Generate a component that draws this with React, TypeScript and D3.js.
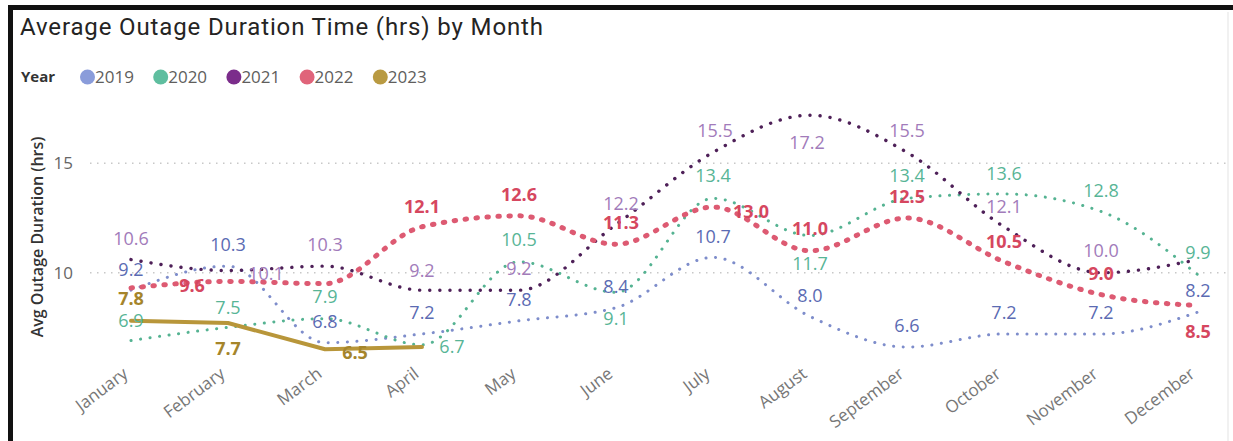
import React from "react";
import * as d3 from "d3";

const months = [
  "January", "February", "March", "April", "May", "June",
  "July", "August", "September", "October", "November", "December",
];
const years = ["2019", "2020", "2021", "2022", "2023"];
const values2019 = [9.2, 10.3, 6.8, 7.2, 7.8, 8.4, 10.7, 8.0, 6.6, 7.2, 7.2, 8.2];
const values2020 = [6.9, 7.5, 7.9, 6.7, 10.5, 9.1, 13.4, 11.7, 13.4, 13.6, 12.8, 9.9];
const values2021 = [10.6, 10.1, 10.3, 9.2, 9.2, 12.2, 15.5, 17.2, 15.5, 12.1, 10.0, 10.6];
const values2022 = [9.3, 9.6, 9.5, 12.1, 12.6, 11.3, 13.0, 11.0, 12.5, 10.5, 9.0, 8.5];
const values2023 = [7.8, 7.7, 6.5, 6.6];
const yTicks = [10, 15];

const titleText = "Average Outage Duration Time (hrs) by Month";
const legendTitle = "Year";
const yAxisTitle = "Avg Outage Duration (hrs)";

// label placement relative to the point [dx, dy]; null = label hidden
type P = [number, number] | null;
const A: P = [0, -21];
const labels2019: P[] = [A, A, A, A, A, A, A, A, A, A, A, A];
const labels2020: P[] = [[0, -20], [0, -20], [0, -22], [30, 2], [0, -22], [0, 26], [0, -23], [0, 28], [0, -23], [0, -20], [0, -21], [0, -22]];
const labels2021: P[] = [A, [38, 3], A, [0, -20], [0, -22], [5, -21], [2, -22], [-3, 27], [0, -22], [0, -20], [0, -22], null];
const labels2022: P[] = [null, [-36, 4], null, [0, -20], A, [5, -22], [38, 5], [0, -22], A, [0, -20], A, [0, 26]];
const labels2023: P[] = [[0, -22], [0, 26], [30, 3], null];

const W = 1233;
const H = 441;

const series = [
  { year: years[0], values: values2019, labels: labels2019, legend: "#8A9CDA", line: "#7E8DCB", label: "#5B6BB3", width: 3, dash: "0.1 9.5", bold: false, solid: false },
  { year: years[1], values: values2020, labels: labels2020, legend: "#5FBE9F", line: "#55B392", label: "#58B596", width: 3, dash: "0.1 9.5", bold: false, solid: false },
  { year: years[2], values: values2021, labels: labels2021, legend: "#7B2D8B", line: "#4E2058", label: "#A27BBA", width: 3.4, dash: "0.1 10", bold: false, solid: false },
  { year: years[3], values: values2022, labels: labels2022, legend: "#E0647A", line: "#DD5A72", label: "#D6475F", width: 5, dash: "1.5 9.5", bold: true, solid: false },
  { year: years[4], values: values2023, labels: labels2023, legend: "#B99A42", line: "#B8963A", label: "#A5852B", width: 4, dash: "", bold: true, solid: true },
];

export default function App() {
  const x = d3.scalePoint<string>().domain(months).range([131, 1198]);
  const y = d3.scaleLinear().domain([6, 18]).range([360.2, 97.7]);

  const smooth = d3
    .line<number>()
    .x((_, i) => x(months[i]) as number)
    .y((d) => y(d))
    .curve(d3.curveMonotoneX);
  const straight = d3
    .line<number>()
    .x((_, i) => x(months[i]) as number)
    .y((d) => y(d))
    .curve(d3.curveLinear);

  const font = "'Open Sans', 'Noto Sans', sans-serif";

  return (
    <svg
      width={W}
      height={H}
      viewBox={`0 0 ${W} ${H}`}
      style={{ position: "fixed", left: 0, top: 0, background: "#fff" }}
    >
      <rect x={0} y={0} width={W} height={H} fill="#ffffff" />
      {/* frame */}
      <rect x={8} y={5} width={W - 8} height={5} fill="#111" />
      <rect x={8} y={5} width={5} height={H - 5} fill="#111" />
      <line x1={1228} x2={1228} y1={12} y2={H} stroke="#ececec" strokeWidth={1.5} />

      {/* title */}
      <text
        x={20}
        y={35}
        fontFamily="Roboto, 'DejaVu Sans', sans-serif"
        fontSize={24}
        fill="#252423"
        textLength={523}
        lengthAdjust="spacing"
      >
        {titleText}
      </text>

      {/* legend */}
      <text x={21} y={77} dy="0.35em" fontFamily={font} fontSize={15} fontWeight={700} fill="#333">
        {legendTitle}
      </text>
      {series.map((s, i) => {
        const cx = 87.5 + i * 73.2;
        return (
          <g key={s.year}>
            <circle cx={cx} cy={77} r={7.5} fill={s.legend} />
            <text x={cx + 7.5} y={77} dy="0.35em" fontFamily={font} fontSize={17} fill="#605E5C">
              {s.year}
            </text>
          </g>
        );
      })}

      {/* gridlines */}
      {yTicks.map((t) => (
        <g key={t}>
          <line
            x1={90}
            x2={1230}
            y1={y(t)}
            y2={y(t)}
            stroke="#C8C8C8"
            strokeWidth={1.5}
            strokeDasharray="1.5 5.5"
          />
          <text x={73} y={y(t)} dy="0.35em" textAnchor="end" fontFamily={font} fontSize={17} fill="#666">
            {t}
          </text>
        </g>
      ))}

      {/* y axis title */}
      <text
        transform={`translate(37,237) rotate(-90)`}
        textAnchor="middle"
        dy="0.35em"
        fontFamily={font}
        fontSize={16}
        fontWeight={600}
        fill="#333"
      >
        {yAxisTitle}
      </text>

      {/* x tick labels */}
      {months.map((m) => (
        <text
          key={m}
          transform={`translate(${(x(m) as number) - 2},376) rotate(-37)`}
          textAnchor="end"
          fontFamily={font}
          fontSize={17}
          fill="#777"
        >
          {m}
        </text>
      ))}

      {/* lines */}
      {series.map((s) => (
        <path
          key={s.year}
          d={(s.solid ? straight : smooth)(s.values) || ""}
          fill="none"
          stroke={s.line}
          strokeWidth={s.width}
          strokeDasharray={s.dash || undefined}
          strokeLinecap="round"
          strokeLinejoin="round"
        />
      ))}

      {/* data labels */}
      {series.map((s) =>
        s.values.map((v, i) => {
          const p = s.labels[i];
          if (!p) return null;
          return (
            <text
              key={s.year + i}
              x={(x(months[i]) as number) + p[0]}
              y={y(v) + p[1]}
              dy="0.35em"
              textAnchor="middle"
              fontFamily={font}
              fontSize={18}
              fontWeight={s.bold ? 700 : 400}
              fill={s.label}
            >
              {v.toFixed(1)}
            </text>
          );
        })
      )}
    </svg>
  );
}
